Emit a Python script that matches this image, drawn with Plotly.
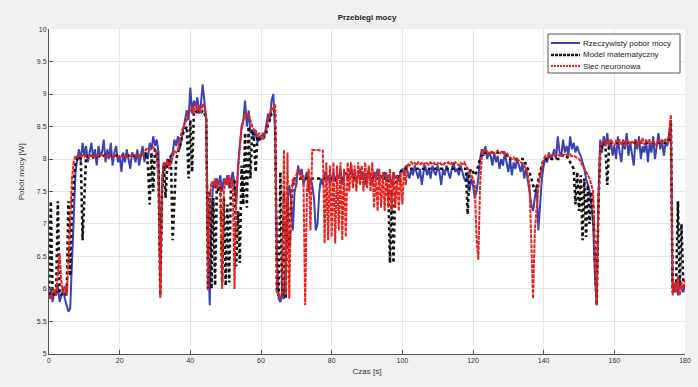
import numpy as np
import plotly.graph_objects as go

TIME_STEP = 0.5
X_TICKS = [0, 20, 40, 60, 80, 100, 120, 140, 160, 180]
Y_TICK_START, Y_TICK_STEP = 5, 0.5
SERIES_NAMES = ["Rzeczywisty pobór mocy", "Model matematyczny", "Sieć neuronowa"]

# Rzeczywisty pobór mocy (one row = 5 s, sampled every 0.5 s)
blue_power = [
    5.85, 6.0, 5.8, 5.95, 5.9, 6.05, 5.8, 5.9, 6.0, 5.85,
    5.75, 5.65, 5.7, 6.4, 7.3, 7.8, 8.0, 8.15, 7.95, 8.25,
    8.05, 8.2, 7.95, 8.1, 8.25, 8.0, 8.15, 7.9, 8.2, 8.05,
    8.1, 8.3, 7.95, 8.15, 8.0, 8.25, 7.9, 8.1, 8.2, 7.95,
    8.05, 7.8, 8.1, 7.95, 8.15, 8.0, 7.85, 8.1, 8.05, 7.95,
    8.15, 7.9, 8.05, 8.2, 7.95, 8.1, 8.0, 8.25, 8.15, 8.35,
    8.2, 8.3, 8.1, 6.1, 7.6, 7.95, 7.85, 8.0, 7.9, 8.05,
    8.1, 8.3, 8.2, 8.35, 8.15, 8.3, 8.5, 8.6, 8.75, 8.6,
    9.1, 8.7, 8.9, 8.8, 8.95, 8.7, 8.85, 9.15, 8.8, 8.6,
    6.6, 5.75, 7.2, 7.65, 7.55, 7.7, 7.6, 7.75, 7.5, 7.7,
    7.6, 7.75, 7.55, 7.7, 7.8, 7.6, 7.3, 7.9, 8.2, 8.5,
    8.6, 8.9, 8.5, 8.75, 8.4, 8.45, 8.3, 8.45, 8.25, 8.35,
    8.3, 8.4, 8.35, 8.5, 8.7, 8.6, 8.9, 9.0, 8.4, 6.5,
    5.85, 5.8, 5.9, 5.85, 6.4, 7.3, 7.6, 7.4, 6.9, 7.5,
    7.6, 7.9, 7.75, 7.85, 7.6, 7.7, 7.8, 7.5, 7.7, 7.6,
    7.4, 6.9, 7.0, 7.5, 7.7, 7.6, 7.8, 7.65, 7.75, 7.6,
    7.7, 7.8, 7.65, 7.75, 7.7, 7.85, 7.6, 7.75, 7.8, 7.7,
    7.75, 7.9, 7.7, 7.8, 7.65, 7.75, 7.85, 7.7, 7.8, 7.6,
    7.75, 7.85, 7.7, 7.6, 7.8, 7.7, 7.85, 7.65, 7.75, 7.7,
    7.8, 7.65, 7.75, 7.7, 7.6, 7.8, 7.7, 7.75, 7.65, 7.8,
    7.85, 7.75, 7.9, 7.8, 7.7, 7.85, 7.75, 7.9, 7.8, 7.7,
    7.85, 7.6, 7.8, 7.9, 7.75, 7.85, 7.7, 7.9, 7.8, 7.75,
    7.9, 7.8, 7.6, 7.85, 7.75, 7.9, 7.8, 7.7, 7.85, 7.95,
    7.8, 7.85, 7.75, 7.9, 7.8, 7.7, 7.65, 7.8, 7.5, 7.7,
    7.6, 7.4, 7.5, 7.7, 8.0, 8.15, 8.05, 8.2, 8.0, 8.1,
    8.05, 7.9, 8.1, 7.95, 8.05, 7.85, 8.0, 7.9, 8.1, 7.95,
    7.8, 8.0, 7.75, 7.95, 7.85, 8.0, 7.9, 7.8, 7.95, 7.7,
    7.85, 7.7, 7.5, 7.3, 7.2, 7.4, 7.6, 6.9, 7.3, 7.7,
    7.9, 8.0, 7.95, 8.1, 8.0, 8.05, 8.15, 8.0, 8.35, 8.1,
    8.05, 8.3, 8.1, 8.2, 8.05, 8.35, 8.15, 8.25, 8.1, 8.2,
    8.1, 8.05, 7.95, 7.85, 7.7, 7.6, 7.5, 7.3, 7.0, 6.2,
    5.75, 7.4, 8.3, 8.1, 8.35, 8.2, 8.4, 8.15, 8.3, 8.05,
    8.2, 8.0, 8.35, 8.1, 7.95, 8.3, 8.15, 8.4, 8.05, 8.25,
    8.1, 7.9, 8.3, 8.15, 8.35, 8.0, 8.2, 8.1, 8.3, 7.95,
    8.25, 8.1, 8.35, 8.0, 8.2, 8.4, 8.15, 8.3, 8.05, 8.25,
    8.2, 8.4, 8.6, 6.0, 5.95, 6.1, 5.9, 6.15, 6.0, 5.95,
    6.05,
]

# Model matematyczny
black_power = [
    5.9, 7.35, 5.9, 5.95, 5.9, 7.35, 5.95, 5.9, 6.0, 5.95,
    5.9, 7.35, 6.2, 7.3, 7.6, 7.95, 8.0, 8.05, 8.0, 6.75,
    7.4, 8.05, 8.04, 8.05, 8.05, 8.04, 8.05, 8.05, 8.04, 8.05,
    8.05, 8.05, 8.05, 8.05, 8.05, 8.05, 8.05, 8.05, 8.05, 8.05,
    8.05, 8.05, 8.05, 8.05, 8.05, 8.05, 8.05, 8.05, 8.05, 8.05,
    8.05, 8.05, 8.05, 8.05, 8.05, 8.1, 7.9, 7.3, 8.1, 7.5,
    8.15, 8.1, 7.8, 5.9, 7.5, 7.9, 7.4, 7.95, 8.0, 8.05,
    6.75, 7.3, 8.0, 8.1, 8.2, 8.3, 8.4, 8.45, 8.5, 7.7,
    8.6, 7.8, 8.7, 8.75, 8.7, 8.75, 8.7, 8.75, 8.7, 8.65,
    6.0, 7.5, 6.0, 7.4, 6.05, 7.6, 7.5, 7.6, 6.1, 7.4,
    6.05, 7.3, 6.1, 7.6, 7.65, 7.7, 6.35, 7.2, 6.4, 7.9,
    7.3, 8.4, 7.25, 8.5, 7.7, 8.45, 8.3, 7.8, 8.35, 8.3,
    8.3, 8.3, 8.35, 8.4, 8.55, 8.6, 8.7, 8.7, 8.75, 5.95,
    5.9, 7.8, 5.9, 7.5, 5.85, 7.4, 6.5, 7.3, 7.6, 7.7,
    7.7, 7.7, 7.7, 7.7, 7.7, 7.7, 7.7, 7.7, 7.7, 7.7,
    7.7, 7.7, 7.7, 7.7, 7.7, 7.7, 7.7, 7.7, 7.7, 7.7,
    7.7, 7.7, 7.7, 7.7, 7.7, 7.7, 7.7, 7.7, 7.7, 7.7,
    7.7, 7.7, 7.7, 7.7, 7.7, 7.7, 7.7, 7.7, 7.7, 7.7,
    7.7, 7.7, 7.7, 7.7, 7.7, 7.7, 7.7, 7.7, 7.7, 7.7,
    7.7, 7.7, 7.7, 6.4, 7.5, 6.4, 7.6, 7.7, 7.75, 7.8,
    7.85, 7.85, 7.85, 7.85, 7.85, 7.85, 7.85, 7.85, 7.85, 7.85,
    7.85, 7.85, 7.85, 7.85, 7.85, 7.85, 7.85, 7.85, 7.85, 7.85,
    7.85, 7.85, 7.85, 7.85, 7.85, 7.85, 7.85, 7.85, 7.85, 7.85,
    7.85, 7.85, 7.85, 7.85, 7.85, 7.85, 7.85, 7.15, 7.8, 7.85,
    7.8, 7.75, 7.8, 7.9, 8.0, 8.05, 8.1, 8.1, 8.1, 8.1,
    8.1, 8.1, 8.1, 8.1, 8.1, 8.1, 8.1, 8.1, 8.1, 8.1,
    8.0, 8.0, 8.0, 8.0, 8.0, 8.0, 8.0, 8.0, 8.0, 8.0,
    7.9, 7.85, 7.8, 7.7, 7.6, 7.5, 7.55, 7.7, 7.8, 7.9,
    8.0, 8.0, 8.0, 8.0, 8.0, 8.0, 8.0, 8.0, 8.0, 8.0,
    8.05, 8.05, 8.05, 8.05, 8.0, 7.95, 7.9, 7.85, 7.3, 7.8,
    7.2, 7.75, 6.75, 7.7, 6.8, 7.6, 7.0, 7.5, 7.3, 6.5,
    5.75, 7.3, 8.1, 8.2, 8.25, 8.2, 7.6, 8.2, 8.25, 8.25,
    8.25, 8.25, 8.25, 8.25, 8.25, 8.25, 8.25, 8.25, 8.25, 8.25,
    8.25, 8.25, 8.25, 8.25, 8.25, 8.25, 8.25, 8.25, 8.25, 8.25,
    8.25, 8.25, 8.25, 8.25, 8.25, 8.25, 8.25, 8.25, 8.25, 8.25,
    8.25, 8.3, 8.6, 5.95, 6.0, 6.1, 7.35, 6.0, 7.0, 6.1,
    6.0,
]

# Sieć neuronowa
red_power = [
    5.9, 5.85, 5.95, 6.0, 5.9, 6.2, 6.55, 6.1, 5.95, 6.05,
    5.9, 6.4, 7.0, 7.7, 7.95, 8.05, 8.03, 8.06, 8.04, 8.05,
    8.03, 8.06, 8.05, 8.04, 8.07, 8.03, 8.05, 8.06, 8.04, 8.05,
    8.06, 8.04, 8.05, 8.03, 8.06, 8.05, 8.04, 8.06, 8.05, 8.03,
    8.05, 8.06, 8.04, 8.05, 8.03, 8.06, 8.05, 8.04, 8.06, 8.05,
    8.05, 8.04, 8.06, 8.05, 8.1, 8.15, 8.17, 8.14, 8.16, 8.18,
    8.15, 8.1, 7.6, 5.86, 7.7, 7.95, 7.9, 7.98, 7.85, 7.95,
    8.05, 8.12, 8.1, 8.15, 8.3, 8.4, 8.5, 8.55, 8.6, 8.7,
    8.75, 8.8, 8.7, 8.85, 8.75, 8.8, 8.7, 8.85, 8.8, 8.65,
    5.98, 7.4, 7.65, 7.6, 7.7, 7.55, 7.65, 7.6, 6.0, 7.5,
    7.7, 7.6, 7.75, 7.55, 7.7, 6.0, 7.4, 7.9, 8.2, 8.45,
    8.6, 8.7, 8.65, 8.7, 8.6, 8.5, 8.45, 8.4, 8.35, 8.4,
    8.35, 8.3, 8.4, 8.45, 8.6, 8.7, 8.8, 8.75, 8.85, 5.95,
    5.9, 5.85, 5.95, 8.14, 5.9, 8.1, 5.85, 7.3, 7.7, 7.6,
    7.75, 7.85, 7.8, 7.7, 7.75, 5.75, 7.5, 7.85, 6.9, 8.14,
    8.14, 8.14, 8.14, 8.14, 8.14, 8.13, 6.7, 7.95, 6.75, 7.9,
    6.8, 7.95, 6.7, 7.9, 6.9, 7.95, 6.75, 7.85, 6.8, 7.95,
    7.5, 7.95, 7.55, 7.9, 7.5, 7.95, 7.6, 7.9, 7.5, 7.95,
    7.55, 7.9, 7.5, 7.95, 7.25, 7.8, 7.2, 7.85, 7.25, 7.8,
    7.2, 7.8, 7.25, 7.85, 7.2, 7.8, 7.25, 7.75, 7.2, 7.8,
    7.3, 7.85, 7.6, 7.93, 7.9, 7.95, 7.92, 7.94, 7.9, 7.95,
    7.92, 7.94, 7.9, 7.95, 7.93, 7.91, 7.95, 7.92, 7.94, 7.9,
    7.93, 7.95, 7.92, 7.9, 7.94, 7.93, 7.95, 7.91, 7.94, 7.92,
    7.95, 7.93, 7.9, 7.94, 7.92, 7.95, 7.9, 7.85, 7.8, 7.75,
    7.7, 7.6, 6.8, 6.45, 7.6, 8.05, 8.15, 8.1, 8.12, 8.08,
    8.1, 8.12, 8.08, 8.1, 8.13, 8.09, 8.1, 8.12, 8.08, 8.1,
    8.05, 8.03, 8.0, 8.02, 7.98, 8.0, 7.97, 7.95, 7.93, 7.9,
    7.85, 7.75, 7.6, 6.8, 5.85, 6.9, 7.3, 7.55, 7.75, 7.9,
    8.0, 8.05, 8.03, 8.06, 8.04, 8.07, 8.05, 8.08, 8.06, 8.05,
    8.07, 8.05, 8.08, 8.06, 8.05, 8.07, 8.04, 8.05, 8.03, 8.02,
    8.0, 7.95, 7.9, 7.85, 7.8, 7.75, 7.7, 7.6, 7.5, 6.5,
    5.75, 7.3, 8.15, 8.25, 8.3, 8.2, 8.28, 8.22, 8.3, 8.25,
    8.2, 8.28, 8.25, 8.3, 8.22, 8.27, 8.2, 8.3, 8.25, 8.22,
    8.28, 8.24, 8.3, 8.2, 8.27, 8.25, 8.32, 8.22, 8.28, 8.25,
    8.3, 8.22, 8.27, 8.25, 8.2, 8.3, 8.26, 8.22, 8.28, 8.3,
    8.25, 8.35, 8.68, 5.9, 6.1, 5.95, 6.2, 5.9, 6.1, 6.0,
    6.15,
]

time_s = np.arange(0, 180 + TIME_STEP / 2, TIME_STEP)
assert len(blue_power) == len(time_s), len(blue_power)
assert len(black_power) == len(time_s), len(black_power)
assert len(red_power) == len(time_s), len(red_power)

COLORS = ["#3a44b0", "#111111", "#e8211c"]
WIDTHS = [2, 2.6, 2]
DASHES = ["solid", "dot", "4px,1px"]
LEGEND_DASHES = ["solid", "3px,1px", "2px,1px"]

fig = go.Figure()
for name, values, color, width, dash in zip(SERIES_NAMES, [blue_power, black_power, red_power],
                                            COLORS, WIDTHS, DASHES):
    fig.add_trace(go.Scatter(x=time_s, y=values, mode="lines", name=name,
                             line=dict(color=color, width=width, dash=dash),
                             showlegend=False, hoverinfo="skip"))

axis_common = dict(
    showline=True, linecolor="#555555", linewidth=1,
    ticks="inside", ticklen=4, tickcolor="#555555",
    showgrid=True, gridcolor="#e6e6e6", gridwidth=1,
    zeroline=False,
    tickfont=dict(size=7, color="#333333", family="Arial, Liberation Sans"),
)

# Legend box (drawn in plot-area fractions, MATLAB style)
LEG_X0, LEG_X1 = (548 - 49) / 636, (680 - 49) / 636
LEG_Y1, LEG_Y0 = (354 - 34) / 325, (354 - 73) / 325
LEG_ROWS = [(354 - 43) / 325, (354 - 55) / 325, (354 - 66) / 325]
LINE_X0, LINE_X1 = (551 - 49) / 636, (580 - 49) / 636

shapes = [dict(type="rect", xref="x domain", yref="y domain", x0=LEG_X0, x1=LEG_X1,
               y0=LEG_Y0, y1=LEG_Y1, fillcolor="#ffffff", line=dict(color="#555555", width=1),
               layer="above")]
annotations = []
for name, color, width, dash, yy in zip(SERIES_NAMES, COLORS, WIDTHS, LEGEND_DASHES, LEG_ROWS):
    shapes.append(dict(type="line", xref="x domain", yref="y domain", x0=LINE_X0, x1=LINE_X1,
                       y0=yy, y1=yy, line=dict(color=color, width=width, dash=dash), layer="above"))
    annotations.append(dict(text=name, xref="x domain", yref="y domain", x=LINE_X1 + 0.002, y=yy,
                            xanchor="left", yanchor="middle", showarrow=False,
                            font=dict(size=8, color="#222222", family="Arial, Liberation Sans")))

# y-axis title as an annotation so it sits where MATLAB puts it
annotations.append(dict(text="Pobór mocy [W]", xref="paper", yref="paper", x=-0.042, y=0.56,
                        xanchor="center", yanchor="middle", textangle=-90, showarrow=False,
                        font=dict(size=8, color="#333333", family="Arial, Liberation Sans")))

fig.update_layout(
    width=698, height=387,
    margin=dict(l=49, r=13, t=29, b=33, autoexpand=False),
    paper_bgcolor="#f0f0f0", plot_bgcolor="#ffffff",
    font=dict(family="Arial, Liberation Sans", color="#222222"),
    title=dict(text="<b>Przebiegi mocy</b>", x=0.5, xref="paper", xanchor="center",
               y=1 - 17 / 387, yref="container", yanchor="middle",
               font=dict(size=8, color="#222222")),
    xaxis=dict(range=[0, 180], tickvals=X_TICKS,
               title=dict(text="Czas [s]", font=dict(size=8, color="#333333"), standoff=4),
               **axis_common),
    yaxis=dict(range=[4.999, 10.001], tickmode="linear", tick0=Y_TICK_START, dtick=Y_TICK_STEP,
               **axis_common),
    shapes=shapes,
    annotations=annotations,
    showlegend=False,
    hovermode=False,
)

fig.write_html(
    "out.html",
    config={"displayModeBar": False, "staticPlot": True},
    post_script="document.body.style.margin='0';document.body.style.background='#f0f0f0';"
                "document.body.style.overflow='hidden';",
)
